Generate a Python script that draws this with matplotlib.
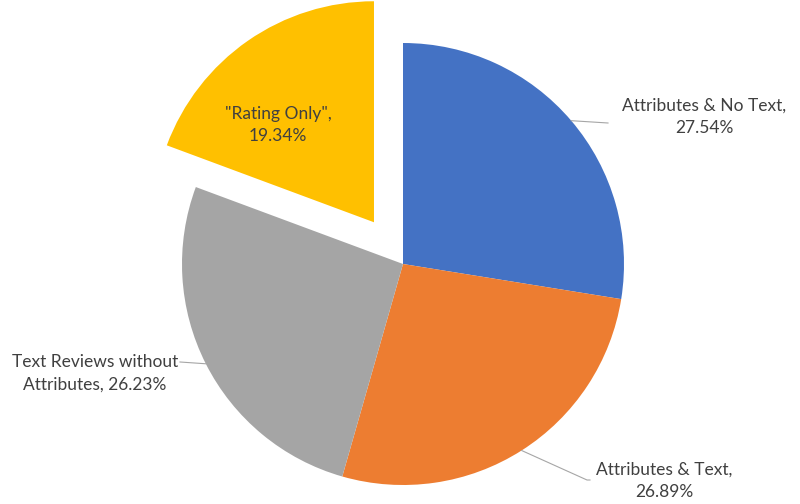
import numpy as np
import matplotlib
matplotlib.use("Agg")
import matplotlib.pyplot as plt

categories = ["Attributes & No Text", "Attributes & Text", "Text Reviews without\nAttributes", "\"Rating Only\""]
values = [27.54, 26.89, 26.23, 19.34]
colors = ["#4472C4", "#ED7D31", "#A5A5A5", "#FFC000"]
explode_frac = [0, 0, 0, 0.23]

plt.rcParams['font.family'] = ['Lato', 'DejaVu Sans']
fig = plt.figure(figsize=(8, 5.04), dpi=100)
ax = fig.add_axes([0, 0, 1, 1])
cx, cy, R = 403, 240, 221
wedges, _ = ax.pie(values, colors=colors, startangle=90, counterclock=False,
                   explode=[e * R for e in explode_frac], center=(cx, cy), radius=R, frame=True)
ax.set_xlim(0, 800)
ax.set_ylim(0, 504)
ax.set_aspect('equal')
ax.axis('off')

tc = "#404040"
lc = "#A6A6A6"
fs = 12.5
ls = 1.5

def edge(w):
    a = np.deg2rad((w.theta1 + w.theta2) / 2)
    return cx + R * np.cos(a), cy + R * np.sin(a)

# Blue label
x0, y0 = edge(wedges[0])
ax.plot([x0, 608], [y0, 381], color=lc, lw=0.8)
ax.text(704, 387, f"{categories[0]},\n{values[0]:.2f}%", ha='center', va='center',
        fontsize=fs, color=tc, linespacing=ls)

# Orange label
x0, y0 = edge(wedges[1])
ax.plot([x0, 587, 590], [y0, 24, 24], color=lc, lw=0.8)
ax.text(664, 23, f"{categories[1]},\n{values[1]:.2f}%", ha='center', va='center',
        fontsize=fs, color=tc, linespacing=ls)

# Gray label
x0, y0 = edge(wedges[2])
ax.plot([x0, 180], [y0, 142], color=lc, lw=0.8)
ax.text(95, 131, "Text Reviews without\nAttributes, " + f"{values[2]:.2f}%", ha='center', va='center',
        fontsize=fs, color=tc, linespacing=ls)

# Yellow label inside
ax.text(278, 379, f"{categories[3]},\n{values[3]:.2f}%", ha='center', va='center',
        fontsize=fs, color=tc, linespacing=ls)

fig.savefig("out.png", dpi=100)
